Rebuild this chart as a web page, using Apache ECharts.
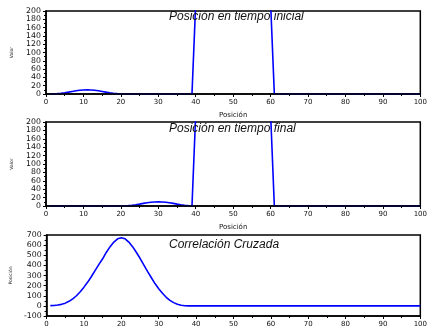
<!DOCTYPE html>
<html>
<head>
<meta charset="utf-8">
<script src="https://cdn.jsdelivr.net/npm/echarts@6/dist/echarts.min.js"></script>
<style>
  html, body { margin: 0; padding: 0; background: #fff; }
  #chart { width: 430px; height: 328px; }
</style>
</head>
<body>
<div id="chart"></div>
<script>
// Sample positions 1..100 (one sample per position index)
const posiciones = Array.from({ length: 100 }, (_, i) => i + 1);

// Signal at the initial time
const valorInicial = [
  0, 0, 0.8, 1.7, 3, 4.5, 6.2, 7.7, 8.9, 9.7,
  10, 9.7, 8.9, 7.7, 6.2, 4.5, 3, 1.7, 0.8, 0,
  0, 0, 0, 0, 0, 0, 0, 0, 0, 0,
  0, 0, 0, 0, 0, 0, 0, 0, 0, 220,
  220, 220, 220, 220, 220, 220, 220, 220, 220, 220,
  220, 220, 220, 220, 220, 220, 220, 220, 220, 220,
  0, 0, 0, 0, 0, 0, 0, 0, 0, 0,
  0, 0, 0, 0, 0, 0, 0, 0, 0, 0,
  0, 0, 0, 0, 0, 0, 0, 0, 0, 0,
  0, 0, 0, 0, 0, 0, 0, 0, 0, 0
];

// Signal at the final time
const valorFinal = [
  0, 0, 0, 0, 0, 0, 0, 0, 0, 0,
  0, 0, 0, 0, 0, 0, 0, 0, 0, 0,
  0, 0.8, 1.7, 3, 4.5, 6.2, 7.7, 8.9, 9.7, 10,
  9.7, 8.9, 7.7, 6.2, 4.5, 3, 1.7, 0.8, 0, 220,
  220, 220, 220, 220, 220, 220, 220, 220, 220, 220,
  220, 220, 220, 220, 220, 220, 220, 220, 220, 220,
  0, 0, 0, 0, 0, 0, 0, 0, 0, 0,
  0, 0, 0, 0, 0, 0, 0, 0, 0, 0,
  0, 0, 0, 0, 0, 0, 0, 0, 0, 0,
  0, 0, 0, 0, 0, 0, 0, 0, 0, 0
];

// Cross-correlation between both signals
const correlacion = [
  2, 4, 8, 15, 27, 45, 70, 100, 140, 185,
  235, 290, 350, 410, 465, 530, 585, 630, 662, 672,
  662, 630, 585, 530, 470, 405, 340, 280, 220, 170,
  125, 85, 55, 32, 16, 6, 1, 0, 0, 0,
  0, 0, 0, 0, 0, 0, 0, 0, 0, 0,
  0, 0, 0, 0, 0, 0, 0, 0, 0, 0,
  0, 0, 0, 0, 0, 0, 0, 0, 0, 0,
  0, 0, 0, 0, 0, 0, 0, 0, 0, 0,
  0, 0, 0, 0, 0, 0, 0, 0, 0, 0,
  0, 0, 0, 0, 0, 0, 0, 0, 0, 0
];

const titulos = ['Posición en tiempo inicial', 'Posición en tiempo final', 'Correlación Cruzada'];
const nombresY = ['Valor', 'Valor', 'Posición'];
const nombreX = 'Posición';
const rangosY = [[0, 200, 20], [0, 200, 20], [-100, 700, 100]];
const senales = [valorInicial, valorFinal, correlacion];

const paneles = [
  { top: 11, height: 83, titleTop: 11 },
  { top: 122, height: 84, titleTop: 123 },
  { top: 235, height: 83, titleTop: 239 }
];

const ink = '#000';
const axisText = { color: '#111', fontFamily: 'DejaVu Sans' };

const option = {
  animation: false,
  backgroundColor: '#fff',
  title: paneles.map((p, i) => ({
    text: titulos[i],
    left: 169,
    top: p.titleTop,
    padding: 0,
    textStyle: {
      fontFamily: 'Liberation Sans',
      fontStyle: 'italic',
      fontWeight: 'normal',
      fontSize: 12,
      color: '#111'
    }
  })),
  grid: paneles.map(p => ({
    left: 46, right: 1, top: p.top, height: p.height,
    show: true, borderColor: ink, borderWidth: 1.5, backgroundColor: 'transparent'
  })),
  xAxis: paneles.map((p, i) => ({
    type: 'value',
    gridIndex: i,
    min: 0, max: 100, interval: 10,
    z: 3,
    name: i < 2 ? nombreX : '',
    nameLocation: 'middle',
    nameGap: 18,
    nameTextStyle: { ...axisText, fontSize: 7 },
    axisLine: { show: true, onZero: false, lineStyle: { color: ink, width: 1.5 } },
    axisTick: { show: true, inside: false, length: 3, lineStyle: { color: ink } },
    minorTick: { show: true, splitNumber: 2, length: 2, lineStyle: { color: ink } },
    splitLine: { show: false },
    axisLabel: { ...axisText, fontSize: 7, margin: 5, showMinLabel: true, showMaxLabel: true }
  })),
  yAxis: paneles.map((p, i) => ({
    type: 'value',
    gridIndex: i,
    min: rangosY[i][0], max: rangosY[i][1], interval: rangosY[i][2],
    z: 3,
    name: nombresY[i],
    nameLocation: 'middle',
    nameGap: 32,
    nameRotate: 90,
    nameTextStyle: { ...axisText, fontSize: 4.5 },
    axisLine: { show: true, onZero: false, lineStyle: { color: ink, width: 1.5 } },
    axisTick: { show: true, inside: false, length: 3, lineStyle: { color: ink } },
    minorTick: { show: true, splitNumber: 2, length: 2, lineStyle: { color: ink } },
    splitLine: { show: false },
    axisLabel: { ...axisText, fontSize: 7.8, margin: 5, showMinLabel: true, showMaxLabel: true }
  })),
  series: senales.map((s, i) => ({
    type: 'line',
    xAxisIndex: i,
    yAxisIndex: i,
    data: posiciones.map((x, k) => [x, s[k]]),
    showSymbol: false,
    clip: true,
    lineStyle: { color: '#0000ff', width: 1.6 },
    z: 2
  }))
};

const chart = echarts.init(document.getElementById('chart'), null, { renderer: 'canvas' });
chart.setOption(option);
</script>
</body>
</html>
